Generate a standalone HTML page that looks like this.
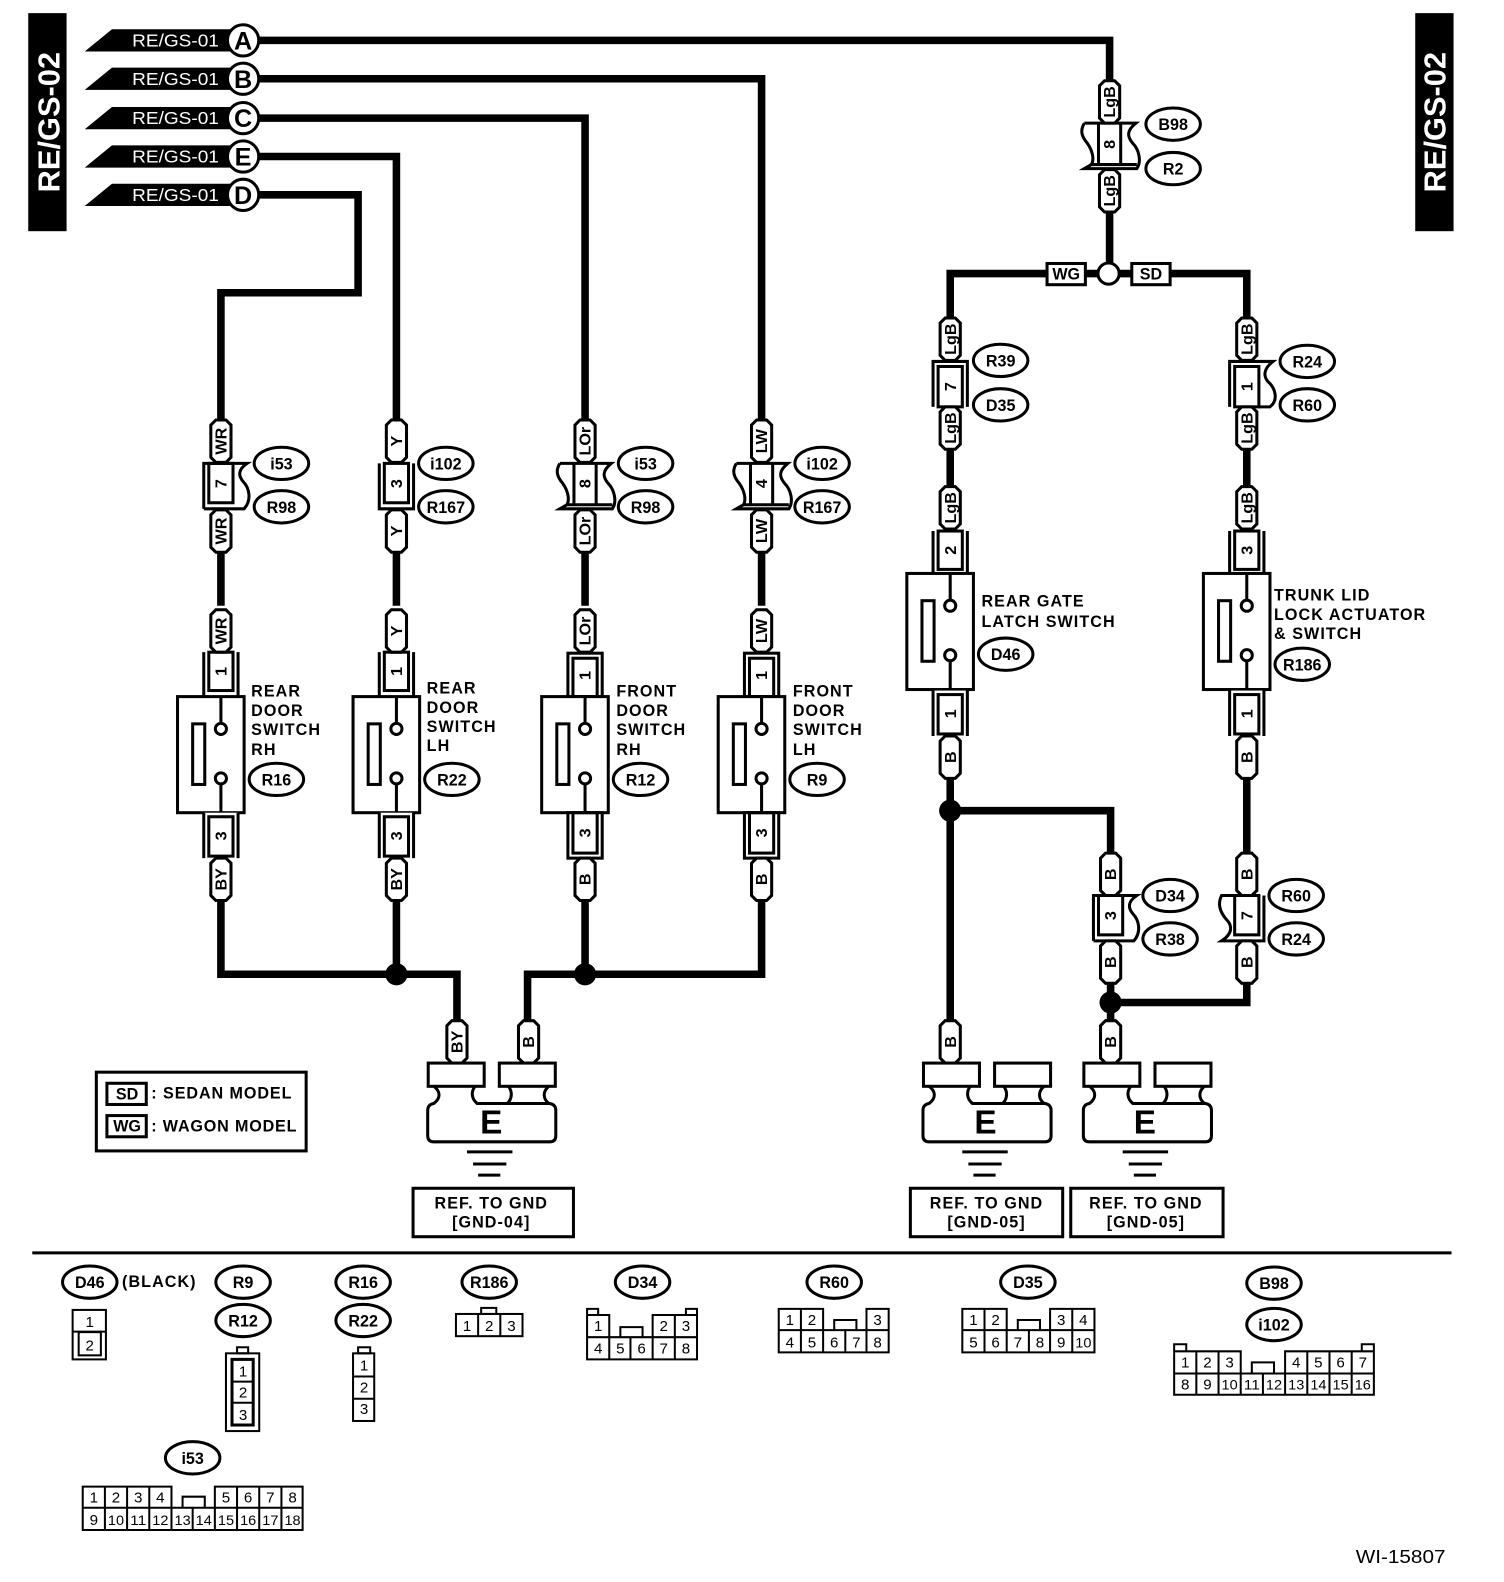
<!DOCTYPE html>
<html><head><meta charset="utf-8"><style>
html,body{margin:0;padding:0;background:#fff}
svg{display:block}
text{font-family:"Liberation Sans",sans-serif;fill:#000}
.w{fill:none;stroke:#000;stroke-width:7.5;stroke-linejoin:miter}
.s{fill:none;stroke:#000;stroke-width:3}
.b{fill:#fff;stroke:#000;stroke-width:3}
.d{fill:none;stroke:#000;stroke-width:2}
.r{font-weight:bold;font-size:16px;text-anchor:middle}
.n{font-weight:bold;font-size:16px;text-anchor:middle}
.o{font-weight:bold;font-size:16px;text-anchor:middle}
.l{font-weight:bold;font-size:16px;letter-spacing:1.05px}
.t{font-size:15px;text-anchor:middle}
.x{font-size:14px;text-anchor:middle}
</style></head><body>
<svg xmlns="http://www.w3.org/2000/svg" width="1504" height="1582" viewBox="0 0 1491 1567" preserveAspectRatio="none">
<defs>
<path id="p" class="b" d="M-10 -16L-5 -21H5L10 -16V16L5 21H-5L-10 16Z"/>
<ellipse id="e" class="b" rx="27" ry="16"/>
<g id="c1"><rect x="-17" y="0" width="34" height="45" fill="#fff"/><path class="s" d="M-17 45V0H26C17 6 17 12 22 18C28 24 31 36 23 45H-17"/><rect class="s" x="-12" y="0" width="24" height="39" fill="#fff"/></g>
<g id="c2"><rect x="-17" y="0" width="34" height="45" fill="#fff"/><path class="s" d="M-17 0V45H17V0"/><rect class="s" x="-12" y="0" width="24" height="39"/></g>
<g id="c3"><rect x="-17" y="0" width="34" height="45" fill="#fff"/><path class="s" d="M-25 0H26C16 8 18 14 23 20C29 26 32 38 27 45H-25L-18 41H27M-25 0C-30 8 -27 14 -22 20C-17 27 -15 36 -18 41"/><path class="s" d="M-11 0V41M11 0V41"/></g>
<g id="c4"><rect x="-17" y="0" width="34" height="45" fill="#fff"/><path class="s" d="M-17 45V0H17V45"/><rect class="s" x="-12" y="5" width="24" height="40"/></g>
<g id="c5"><rect x="-17" y="0" width="34" height="45" fill="#fff"/><path class="s" d="M-17 45V0H26C17 7 16 14 21 20C28 26 32 38 23 45H12"/><rect class="s" x="-12" y="5" width="24" height="40"/></g>
<g id="c6"><rect x="-17" y="0" width="34" height="45" fill="#fff"/><path class="s" d="M17 0V45H-25C-14 38 -14 30 -20 24C-27 16 -29 8 -25 0H12"/><rect class="s" x="-12" y="0" width="24" height="39"/></g>
<g id="ct"><rect x="-17" y="0" width="34" height="43" fill="#fff"/><path class="s" d="M-17 0V43M17 0V43"/><rect class="s" x="-12" y="0" width="24" height="38"/></g>
<g id="ctc"><rect class="b" x="-17" y="0" width="34" height="43"/><rect class="s" x="-12" y="5" width="24" height="38"/></g>
<g id="cb"><rect x="-17" y="0" width="34" height="45" fill="#fff"/><path class="s" d="M-17 0V45M17 0V45"/><rect class="s" x="-12" y="4" width="24" height="39"/></g>
<g id="cbc"><rect class="b" x="-17" y="0" width="34" height="45"/><rect class="s" x="-12" y="0" width="24" height="40"/></g>
<g id="sw"><rect class="b" x="-43" y="0" width="66" height="115"/><rect class="s" x="-28" y="27" width="12" height="60"/><path class="s" d="M0 0V27M0 87V115"/><circle class="b" cx="0" cy="32" r="5.5"/><circle class="b" cx="0" cy="81" r="5.5"/></g>
<g id="gnd"><rect class="b" x="0.5" y="0" width="55.5" height="23"/><rect class="b" x="71" y="0" width="55.5" height="23"/>
<path class="s" d="M6 23C13 28 13 35 6 40Q0 41 0 47V72Q0 78 6 78H121Q127 78 127 72V47Q127 41 121 40H49C43 35 43 28 47 23M80 23C84 28 84 35 79 40M120 23C114 28 114 35 120 40"/>
<path class="s" d="M39 88H84M45 100H78M50 111H72"/></g>
</defs>
<rect width="1491" height="1567" fill="#fff"/>

<!-- side bars -->
<rect x="28" y="13" width="38" height="216" fill="#000"/>
<rect x="1403" y="13" width="38" height="216" fill="#000"/>
<text transform="translate(59,121) rotate(-90)" text-anchor="middle" font-size="30" textLength="139" lengthAdjust="spacingAndGlyphs" style="fill:#fff;font-weight:bold">RE/GS-02</text>
<text transform="translate(1433,121) rotate(-90)" text-anchor="middle" font-size="30" textLength="139" lengthAdjust="spacingAndGlyphs" style="fill:#fff;font-weight:bold">RE/GS-02</text>

<!-- wires -->
<path class="w" d="M250 40H1100V100"/>
<path class="w" d="M250 78H755V440"/>
<path class="w" d="M250 117H580V440"/>
<path class="w" d="M250 155H393V440"/>
<path class="w" d="M250 193H355V290H219V440"/>
<path class="w" d="M219 500V600M393 500V600M580 500V600M755 500V600"/>
<path class="w" d="M219 870V965H453V1030"/>
<path class="w" d="M393 870V965"/>
<path class="w" d="M755 870V965H523V1030"/>
<path class="w" d="M580 870V965"/>
<path class="w" d="M1100 190V271"/>
<path class="w" d="M942 340V271H1236V340"/>
<path class="w" d="M942 420V500M1236 420V500"/>
<path class="w" d="M942 750V1030M942 803H1101V870"/>
<path class="w" d="M1236 750V870M1236 950V993H1101M1101 950V1030"/>
<circle cx="393" cy="965" r="11"/><circle cx="580" cy="965" r="11"/>
<circle cx="942" cy="803" r="11"/><circle cx="1101" cy="993" r="11"/>
<circle class="b" cx="1099" cy="271" r="10.5" stroke-width="3.5"/>
<rect class="b" x="1038" y="261" width="38" height="21"/><text x="1057" y="277" class="n">WG</text>
<rect class="b" x="1122" y="261" width="38" height="21"/><text x="1141" y="277" class="n">SD</text>

<!-- top labels -->
<g fill="#000">
<polygon points="84,51 111,29 232,29 232,51"/>
<polygon points="84,89 111,67 232,67 232,89"/>
<polygon points="84,128 111,106 232,106 232,128"/>
<polygon points="84,166 111,144 232,144 232,166"/>
<polygon points="84,204 111,182 232,182 232,204"/>
</g>
<text x="131" y="46" font-size="17" textLength="86" lengthAdjust="spacingAndGlyphs" style="fill:#fff">RE/GS-01</text>
<text x="131" y="84" font-size="17" textLength="86" lengthAdjust="spacingAndGlyphs" style="fill:#fff">RE/GS-01</text>
<text x="131" y="123" font-size="17" textLength="86" lengthAdjust="spacingAndGlyphs" style="fill:#fff">RE/GS-01</text>
<text x="131" y="161" font-size="17" textLength="86" lengthAdjust="spacingAndGlyphs" style="fill:#fff">RE/GS-01</text>
<text x="131" y="199" font-size="17" textLength="86" lengthAdjust="spacingAndGlyphs" style="fill:#fff">RE/GS-01</text>
<circle class="b" cx="241" cy="40" r="15.5"/><circle class="b" cx="241" cy="78" r="15.5"/><circle class="b" cx="241" cy="117" r="15.5"/><circle class="b" cx="241" cy="155" r="15.5"/><circle class="b" cx="241" cy="193" r="15.5"/>
<g font-size="25" font-weight="bold" text-anchor="middle">
<text x="241" y="49">A</text><text x="241" y="87">B</text><text x="241" y="126">C</text><text x="241" y="164">E</text><text x="241" y="202">D</text>
</g>

<!-- column 219 -->
<g transform="translate(219,0)">
<use href="#c1" y="459"/><text class="n" transform="translate(0,479) rotate(-90)" y="5.5">7</text>
<use href="#p" y="437"/><text class="r" transform="translate(0,437) rotate(-90)" y="5.5">WR</text>
<use href="#p" y="526"/><text class="r" transform="translate(0,526) rotate(-90)" y="5.5">WR</text>
<use href="#ct" y="646"/><text class="n" transform="translate(0,665) rotate(-90)" y="5.5">1</text>
<use href="#p" y="625"/><text class="r" transform="translate(0,625) rotate(-90)" y="5.5">WR</text>
<use href="#sw" y="690"/>
<use href="#cb" y="805"/><text class="n" transform="translate(0,828) rotate(-90)" y="5.5">3</text>
<use href="#p" y="871"/><text class="r" transform="translate(0,871) rotate(-90)" y="5.5">BY</text>
</g>
<!-- column 393 -->
<g transform="translate(393,0)">
<use href="#c2" y="459"/><text class="n" transform="translate(0,479) rotate(-90)" y="5.5">3</text>
<use href="#p" y="437"/><text class="r" transform="translate(0,437) rotate(-90)" y="5.5">Y</text>
<use href="#p" y="526"/><text class="r" transform="translate(0,526) rotate(-90)" y="5.5">Y</text>
<use href="#ct" y="646"/><text class="n" transform="translate(0,665) rotate(-90)" y="5.5">1</text>
<use href="#p" y="625"/><text class="r" transform="translate(0,625) rotate(-90)" y="5.5">Y</text>
<use href="#sw" y="690"/>
<use href="#cb" y="805"/><text class="n" transform="translate(0,828) rotate(-90)" y="5.5">3</text>
<use href="#p" y="871"/><text class="r" transform="translate(0,871) rotate(-90)" y="5.5">BY</text>
</g>
<!-- column 580 -->
<g transform="translate(580,0)">
<use href="#c3" y="459"/><text class="n" transform="translate(0,479) rotate(-90)" y="5.5">8</text>
<use href="#p" y="437"/><text class="r" transform="translate(0,437) rotate(-90)" y="5.5">LOr</text>
<use href="#p" y="526"/><text class="r" transform="translate(0,526) rotate(-90)" y="5.5">LOr</text>
<use href="#ctc" y="647"/><text class="n" transform="translate(0,669) rotate(-90)" y="5.5">1</text>
<use href="#p" y="625"/><text class="r" transform="translate(0,625) rotate(-90)" y="5.5">LOr</text>
<use href="#sw" y="690"/>
<use href="#cbc" y="805"/><text class="n" transform="translate(0,825) rotate(-90)" y="5.5">3</text>
<use href="#p" y="871"/><text class="r" transform="translate(0,871) rotate(-90)" y="5.5">B</text>
</g>
<!-- column 755 -->
<g transform="translate(755,0)">
<use href="#c3" y="459"/><text class="n" transform="translate(0,479) rotate(-90)" y="5.5">4</text>
<use href="#p" y="437"/><text class="r" transform="translate(0,437) rotate(-90)" y="5.5">LW</text>
<use href="#p" y="526"/><text class="r" transform="translate(0,526) rotate(-90)" y="5.5">LW</text>
<use href="#ctc" y="647"/><text class="n" transform="translate(0,669) rotate(-90)" y="5.5">1</text>
<use href="#p" y="625"/><text class="r" transform="translate(0,625) rotate(-90)" y="5.5">LW</text>
<use href="#sw" y="690"/>
<use href="#cbc" y="805"/><text class="n" transform="translate(0,825) rotate(-90)" y="5.5">3</text>
<use href="#p" y="871"/><text class="r" transform="translate(0,871) rotate(-90)" y="5.5">B</text>
</g>
<!-- B98 -->
<g transform="translate(1100,0)">
<use href="#c3" y="122"/><text class="n" transform="translate(0,143) rotate(-90)" y="5.5">8</text>
<use href="#p" y="101"/><text class="r" transform="translate(0,101) rotate(-90)" y="5.5">LgB</text>
<use href="#p" y="189"/><text class="r" transform="translate(0,189) rotate(-90)" y="5.5">LgB</text>
</g>
<!-- column 942 -->
<g transform="translate(942,0)">
<use href="#c4" y="358"/><text class="n" transform="translate(0,383) rotate(-90)" y="5.5">7</text>
<use href="#p" y="336"/><text class="r" transform="translate(0,336) rotate(-90)" y="5.5">LgB</text>
<use href="#p" y="424"/><text class="r" transform="translate(0,424) rotate(-90)" y="5.5">LgB</text>
<use href="#ct" y="526"/><text class="n" transform="translate(0,545) rotate(-90)" y="5.5">2</text>
<use href="#p" y="503"/><text class="r" transform="translate(0,503) rotate(-90)" y="5.5">LgB</text>
<use href="#sw" y="568"/>
<use href="#cb" y="684"/><text class="n" transform="translate(0,707) rotate(-90)" y="5.5">1</text>
<use href="#p" y="750"/><text class="r" transform="translate(0,750) rotate(-90)" y="5.5">B</text>
<use href="#p" y="1032"/><text class="r" transform="translate(0,1032) rotate(-90)" y="5.5">B</text>
</g>
<!-- column 1236 -->
<g transform="translate(1236,0)">
<use href="#c5" y="358"/><text class="n" transform="translate(0,383) rotate(-90)" y="5.5">1</text>
<use href="#p" y="336"/><text class="r" transform="translate(0,336) rotate(-90)" y="5.5">LgB</text>
<use href="#p" y="424"/><text class="r" transform="translate(0,424) rotate(-90)" y="5.5">LgB</text>
<use href="#ct" y="526"/><text class="n" transform="translate(0,545) rotate(-90)" y="5.5">3</text>
<use href="#p" y="503"/><text class="r" transform="translate(0,503) rotate(-90)" y="5.5">LgB</text>
<use href="#sw" y="568"/>
<use href="#cb" y="684"/><text class="n" transform="translate(0,707) rotate(-90)" y="5.5">1</text>
<use href="#p" y="750"/><text class="r" transform="translate(0,750) rotate(-90)" y="5.5">B</text>
<use href="#c6" y="887"/><text class="n" transform="translate(0,907) rotate(-90)" y="5.5">7</text>
<use href="#p" y="866"/><text class="r" transform="translate(0,866) rotate(-90)" y="5.5">B</text>
<use href="#p" y="953"/><text class="r" transform="translate(0,953) rotate(-90)" y="5.5">B</text>
</g>
<!-- column 1101 lower -->
<g transform="translate(1101,0)">
<use href="#c1" y="887"/><text class="n" transform="translate(0,907) rotate(-90)" y="5.5">3</text>
<use href="#p" y="866"/><text class="r" transform="translate(0,866) rotate(-90)" y="5.5">B</text>
<use href="#p" y="953"/><text class="r" transform="translate(0,953) rotate(-90)" y="5.5">B</text>
<use href="#p" y="1032"/><text class="r" transform="translate(0,1032) rotate(-90)" y="5.5">B</text>
</g>
<use href="#p" x="453" y="1032"/><text class="r" transform="translate(453,1032) rotate(-90)" y="5.5">BY</text>
<use href="#p" x="524" y="1032"/><text class="r" transform="translate(524,1032) rotate(-90)" y="5.5">B</text>

<!-- grounds -->
<g transform="translate(0,-1)">
<use href="#gnd" x="424" y="1054"/><text x="487" y="1124" font-size="33" font-weight="bold" text-anchor="middle">E</text>
<use href="#gnd" x="915" y="1054"/><text x="977" y="1124" font-size="33" font-weight="bold" text-anchor="middle">E</text>
<use href="#gnd" x="1074" y="1054"/><text x="1135" y="1124" font-size="33" font-weight="bold" text-anchor="middle">E</text>
<rect class="s" x="409.5" y="1178" width="159" height="48"/>
<rect class="s" x="902.5" y="1178" width="151" height="48"/>
<rect class="s" x="1061.5" y="1178" width="151" height="48"/>
<text class="l" x="487" y="1198" text-anchor="middle">REF. TO GND</text><text class="l" x="487" y="1217" text-anchor="middle">[GND-04]</text>
<text class="l" x="978" y="1198" text-anchor="middle">REF. TO GND</text><text class="l" x="978" y="1217" text-anchor="middle">[GND-05]</text>
<text class="l" x="1136" y="1198" text-anchor="middle">REF. TO GND</text><text class="l" x="1136" y="1217" text-anchor="middle">[GND-05]</text>
</g>

<!-- switch labels -->
<text class="l" x="249" y="690">REAR</text><text class="l" x="249" y="709">DOOR</text><text class="l" x="249" y="728">SWITCH</text><text class="l" x="249" y="748">RH</text>
<text class="l" x="423" y="687">REAR</text><text class="l" x="423" y="706">DOOR</text><text class="l" x="423" y="725">SWITCH</text><text class="l" x="423" y="744">LH</text>
<text class="l" x="611" y="690">FRONT</text><text class="l" x="611" y="709">DOOR</text><text class="l" x="611" y="728">SWITCH</text><text class="l" x="611" y="748">RH</text>
<text class="l" x="786" y="690">FRONT</text><text class="l" x="786" y="709">DOOR</text><text class="l" x="786" y="728">SWITCH</text><text class="l" x="786" y="748">LH</text>
<text class="l" x="973" y="601">REAR GATE</text><text class="l" x="973" y="621">LATCH SWITCH</text>
<text class="l" x="1263" y="595">TRUNK LID</text><text class="l" x="1263" y="614">LOCK ACTUATOR</text><text class="l" x="1263" y="633">&amp; SWITCH</text>

<!-- ovals -->
<use href="#e" x="279" y="459"/><text class="o" x="279" y="465">i53</text>
<use href="#e" x="279" y="502"/><text class="o" x="279" y="508">R98</text>
<use href="#e" x="442" y="459"/><text class="o" x="442" y="465">i102</text>
<use href="#e" x="442" y="502"/><text class="o" x="442" y="508">R167</text>
<use href="#e" x="640" y="459"/><text class="o" x="640" y="465">i53</text>
<use href="#e" x="640" y="502"/><text class="o" x="640" y="508">R98</text>
<use href="#e" x="815" y="459"/><text class="o" x="815" y="465">i102</text>
<use href="#e" x="815" y="502"/><text class="o" x="815" y="508">R167</text>
<use href="#e" x="1163" y="123"/><text class="o" x="1163" y="129">B98</text>
<use href="#e" x="1163" y="167"/><text class="o" x="1163" y="173">R2</text>
<use href="#e" x="992" y="357"/><text class="o" x="992" y="363">R39</text>
<use href="#e" x="992" y="401"/><text class="o" x="992" y="407">D35</text>
<use href="#e" x="1296" y="358"/><text class="o" x="1296" y="364">R24</text>
<use href="#e" x="1296" y="401"/><text class="o" x="1296" y="407">R60</text>
<use href="#e" x="1160" y="887"/><text class="o" x="1160" y="893">D34</text>
<use href="#e" x="1160" y="930"/><text class="o" x="1160" y="936">R38</text>
<use href="#e" x="1285" y="887"/><text class="o" x="1285" y="893">R60</text>
<use href="#e" x="1285" y="930"/><text class="o" x="1285" y="936">R24</text>
<use href="#e" x="274" y="772"/><text class="o" x="274" y="778">R16</text>
<use href="#e" x="448" y="772"/><text class="o" x="448" y="778">R22</text>
<use href="#e" x="635" y="772"/><text class="o" x="635" y="778">R12</text>
<use href="#e" x="810" y="772"/><text class="o" x="810" y="778">R9</text>
<use href="#e" x="997" y="648"/><text class="o" x="997" y="654">D46</text>
<use href="#e" x="1291" y="658"/><text class="o" x="1291" y="664">R186</text>
<g transform="translate(0,-1)">
<use href="#e" x="89" y="1271"/><text class="o" x="89" y="1277">D46</text>
<use href="#e" x="241" y="1271"/><text class="o" x="241" y="1277">R9</text>
<use href="#e" x="241" y="1309"/><text class="o" x="241" y="1315">R12</text>
<use href="#e" x="360" y="1271"/><text class="o" x="360" y="1277">R16</text>
<use href="#e" x="360" y="1309"/><text class="o" x="360" y="1315">R22</text>
<use href="#e" x="485" y="1271"/><text class="o" x="485" y="1277">R186</text>
<use href="#e" x="637" y="1271"/><text class="o" x="637" y="1277">D34</text>
<use href="#e" x="827" y="1271"/><text class="o" x="827" y="1277">R60</text>
<use href="#e" x="1019" y="1271"/><text class="o" x="1019" y="1277">D35</text>
<use href="#e" x="1263" y="1272"/><text class="o" x="1263" y="1278">B98</text>
<use href="#e" x="1263" y="1313"/><text class="o" x="1263" y="1319">i102</text>
<use href="#e" x="191" y="1445"/><text class="o" x="191" y="1451">i53</text>
<text class="l" x="121" y="1276">(BLACK)</text>
</g>

<!-- legend -->
<g transform="translate(0,-1)">
<rect class="s" x="95.5" y="1063" width="208" height="78"/>
<rect class="s" x="106" y="1074" width="39" height="21"/><text class="n" x="126" y="1090">SD</text>
<rect class="s" x="106" y="1106" width="39" height="21"/><text class="n" x="126" y="1122">WG</text>
<text class="l" x="150" y="1089" textLength="140">: SEDAN MODEL</text>
<text class="l" x="150" y="1122" textLength="145">: WAGON MODEL</text>
</g>

<path d="M32 1241H1439" stroke="#000" stroke-width="3"/>

<!-- connector tables -->
<g transform="translate(0,-1.5)">
<rect class="d" x="72" y="1299" width="33" height="49"/><path class="d" d="M72 1320.5H105"/><rect class="d" x="78" y="1321" width="22" height="23"/>
<text class="t" x="89" y="1316">1</text><text class="t" x="89" y="1339">2</text>

<rect class="d" x="224" y="1342" width="33" height="77"/><rect class="d" x="235" y="1336" width="11" height="6"/>
<rect x="230" y="1348" width="21" height="65" class="s"/><path class="d" d="M230 1370H251M230 1391H251"/>
<text class="t" x="241" y="1365">1</text><text class="t" x="241" y="1386">2</text><text class="t" x="241" y="1408">3</text>

<rect class="d" x="350" y="1342" width="21" height="67"/><rect class="d" x="355" y="1336" width="12" height="6"/><path class="d" d="M350 1365H371M350 1387H371"/>
<text class="t" x="361" y="1359">1</text><text class="t" x="361" y="1381">2</text><text class="t" x="361" y="1402">3</text>

<rect class="d" x="452" y="1303" width="66" height="22"/><rect class="d" x="477" y="1297" width="15" height="6"/><path class="d" d="M474 1303V1325M496 1303V1325"/>
<text class="t" x="463" y="1320">1</text><text class="t" x="485" y="1320">2</text><text class="t" x="507" y="1320">3</text>

<path class="d" d="M582 1326V1304H604V1326M647 1326V1304H691V1326M669 1304V1326M582 1326H691V1348H582ZM604 1326V1348M625 1326V1348M647 1326V1348M669 1326V1348M582 1304V1298H593V1304M680 1304V1298H691V1304M615 1326V1316H637V1326"/>
<text class="t" x="593" y="1320">1</text><text class="t" x="658" y="1320">2</text><text class="t" x="680" y="1320">3</text>
<text class="t" x="593" y="1342">4</text><text class="t" x="615" y="1342">5</text><text class="t" x="636" y="1342">6</text><text class="t" x="658" y="1342">7</text><text class="t" x="680" y="1342">8</text>

<path class="d" d="M772 1319V1298H816V1319M794 1298V1319M859 1319V1298H881V1319M772 1319H881V1341H772ZM794 1319V1341M816 1319V1341M838 1319V1341M859 1319V1341M827 1319V1309H849V1319"/>
<text class="t" x="783" y="1314">1</text><text class="t" x="805" y="1314">2</text><text class="t" x="870" y="1314">3</text>
<text class="t" x="783" y="1336">4</text><text class="t" x="805" y="1336">5</text><text class="t" x="827" y="1336">6</text><text class="t" x="849" y="1336">7</text><text class="t" x="870" y="1336">8</text>

<path class="d" d="M954 1319V1298H998V1319M976 1298V1319M1041 1319V1298H1085V1319M1063 1298V1319M954 1319H1085V1341H954ZM976 1319V1341M998 1319V1341M1020 1319V1341M1041 1319V1341M1063 1319V1341M1009 1319V1309H1031V1319"/>
<text class="t" x="965" y="1314">1</text><text class="t" x="987" y="1314">2</text><text class="t" x="1052" y="1314">3</text><text class="t" x="1074" y="1314">4</text>
<text class="t" x="965" y="1336">5</text><text class="t" x="987" y="1336">6</text><text class="t" x="1009" y="1336">7</text><text class="t" x="1031" y="1336">8</text><text class="t" x="1052" y="1336">9</text><text class="x" x="1074" y="1336" textLength="16" lengthAdjust="spacingAndGlyphs">10</text>

<path class="d" d="M1164 1362V1340H1230V1362M1186 1340V1362M1208 1340V1362M1274 1362V1340H1362V1362M1296 1340V1362M1318 1340V1362M1340 1340V1362M1164 1362H1362V1383H1164ZM1186 1362V1383M1208 1362V1383M1230 1362V1383M1252 1362V1383M1274 1362V1383M1296 1362V1383M1318 1362V1383M1340 1362V1383M1241 1362V1351H1263V1362M1164 1340V1333H1176V1340M1350 1340V1333H1362V1340"/>
<text class="t" x="1175" y="1356">1</text><text class="t" x="1197" y="1356">2</text><text class="t" x="1219" y="1356">3</text>
<text class="t" x="1285" y="1356">4</text><text class="t" x="1307" y="1356">5</text><text class="t" x="1329" y="1356">6</text><text class="t" x="1351" y="1356">7</text>
<text class="t" x="1175" y="1378">8</text><text class="t" x="1197" y="1378">9</text>
<text class="x" x="1219" y="1378" textLength="16" lengthAdjust="spacingAndGlyphs">10</text><text class="x" x="1241" y="1378" textLength="16" lengthAdjust="spacingAndGlyphs">11</text><text class="x" x="1263" y="1378" textLength="16" lengthAdjust="spacingAndGlyphs">12</text><text class="x" x="1285" y="1378" textLength="16" lengthAdjust="spacingAndGlyphs">13</text><text class="x" x="1307" y="1378" textLength="16" lengthAdjust="spacingAndGlyphs">14</text><text class="x" x="1329" y="1378" textLength="16" lengthAdjust="spacingAndGlyphs">15</text><text class="x" x="1351" y="1378" textLength="16" lengthAdjust="spacingAndGlyphs">16</text>

<path class="d" d="M82 1495V1474H170V1495M104 1474V1495M126 1474V1495M148 1474V1495M213 1495V1474H300V1495M235 1474V1495M257 1474V1495M279 1474V1495M82 1495H300V1517H82ZM104 1495V1517M126 1495V1517M148 1495V1517M170 1495V1517M191 1495V1517M213 1495V1517M235 1495V1517M257 1495V1517M279 1495V1517M181 1495V1484H203V1495"/>
<text class="t" x="93" y="1490">1</text><text class="t" x="115" y="1490">2</text><text class="t" x="137" y="1490">3</text><text class="t" x="159" y="1490">4</text>
<text class="t" x="224" y="1490">5</text><text class="t" x="246" y="1490">6</text><text class="t" x="268" y="1490">7</text><text class="t" x="290" y="1490">8</text>
<text class="t" x="93" y="1512">9</text>
<text class="x" x="115" y="1512" textLength="16" lengthAdjust="spacingAndGlyphs">10</text><text class="x" x="137" y="1512" textLength="16" lengthAdjust="spacingAndGlyphs">11</text><text class="x" x="159" y="1512" textLength="16" lengthAdjust="spacingAndGlyphs">12</text><text class="x" x="181" y="1512" textLength="16" lengthAdjust="spacingAndGlyphs">13</text><text class="x" x="202" y="1512" textLength="16" lengthAdjust="spacingAndGlyphs">14</text><text class="x" x="224" y="1512" textLength="16" lengthAdjust="spacingAndGlyphs">15</text><text class="x" x="246" y="1512" textLength="16" lengthAdjust="spacingAndGlyphs">16</text><text class="x" x="268" y="1512" textLength="16" lengthAdjust="spacingAndGlyphs">17</text><text class="x" x="290" y="1512" textLength="16" lengthAdjust="spacingAndGlyphs">18</text>
</g>

<text x="1344" y="1548" font-size="18" textLength="89" lengthAdjust="spacingAndGlyphs">WI-15807</text>
</svg>
</body></html>
